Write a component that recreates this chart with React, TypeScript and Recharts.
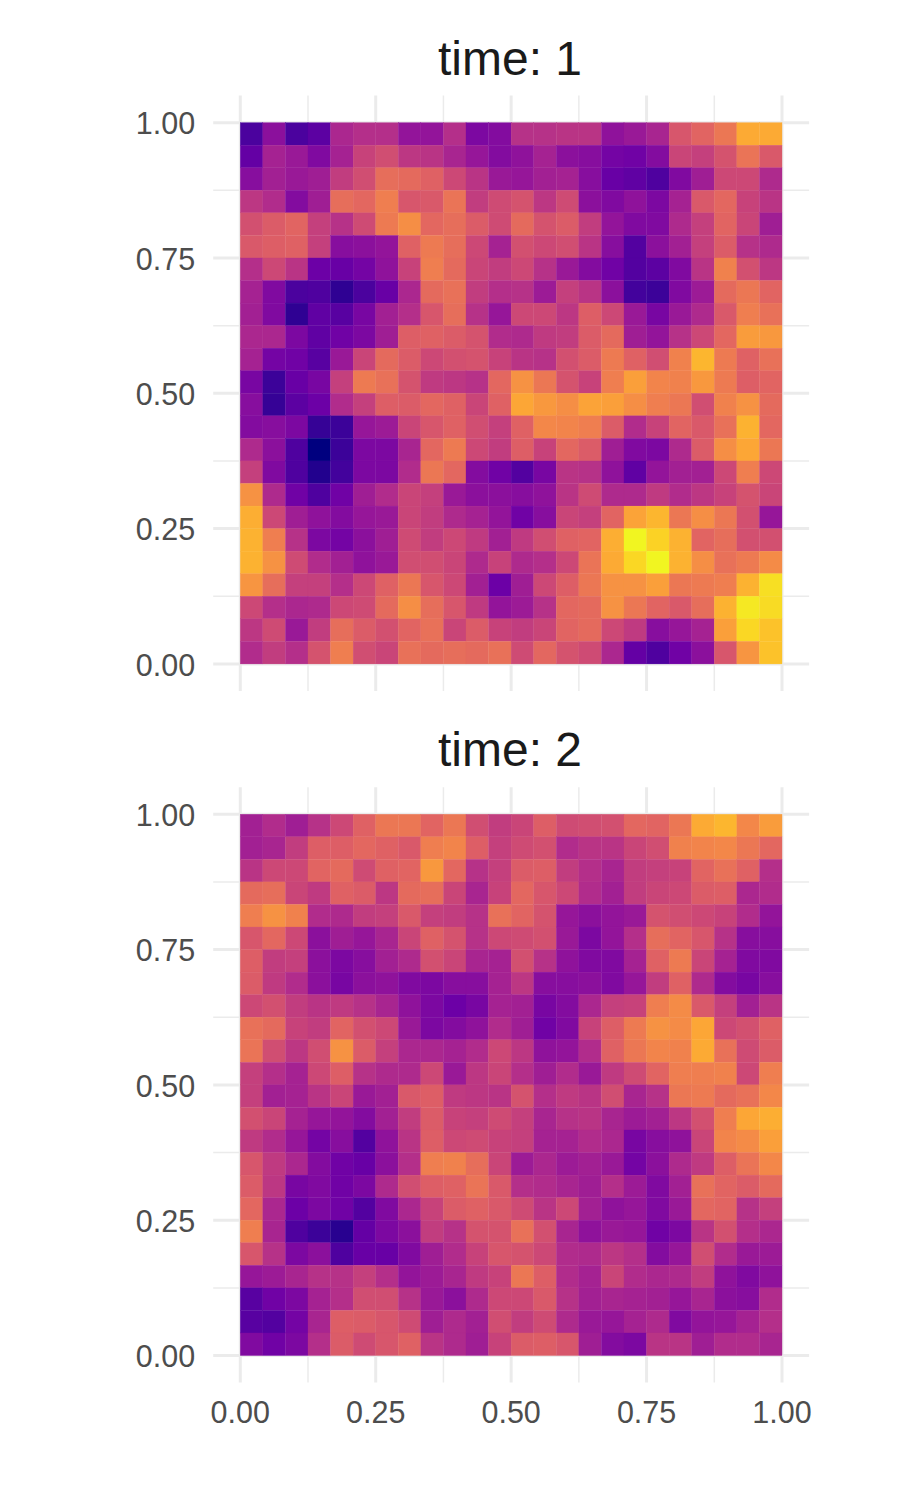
// Two stacked heatmap panels (time: 1, time: 2) on a plasma scale.
import { ScatterChart, Scatter, XAxis, YAxis, CartesianGrid } from "recharts";

const axisTicks = [0, 0.25, 0.5, 0.75, 1];
const minorTicks = [0.125, 0.375, 0.625, 0.875];

// plasma stops, low to high (values below are read on a 0-100 scale)
const plasmaStops = [
  "#00007f", "#43029c", "#6c00a6", "#93149a", "#b12c8c", "#cc4876",
  "#e16462", "#f2844b", "#fca636", "#fcce25", "#f0f921",
];

// rows run top to bottom, columns left to right
const time1Values = [
  [12, 28, 12, 16, 38, 41, 41, 30, 30, 41, 24, 26, 42, 42, 43, 43, 29, 32, 37, 55, 60, 66, 81, 81],
  [18, 36, 32, 25, 36, 48, 52, 44, 43, 37, 31, 26, 29, 36, 28, 27, 22, 21, 26, 49, 47, 54, 65, 56],
  [27, 35, 32, 34, 46, 52, 63, 62, 59, 50, 43, 32, 31, 35, 36, 27, 19, 17, 13, 25, 34, 50, 50, 39],
  [44, 40, 26, 34, 63, 61, 68, 55, 56, 65, 46, 51, 54, 44, 51, 28, 25, 29, 24, 36, 56, 61, 48, 43],
  [53, 57, 60, 47, 42, 51, 67, 73, 61, 63, 57, 51, 62, 54, 57, 46, 30, 25, 25, 39, 47, 60, 49, 34],
  [56, 58, 59, 47, 27, 28, 30, 59, 67, 63, 50, 36, 53, 50, 52, 43, 27, 14, 28, 35, 47, 57, 42, 39],
  [41, 50, 43, 20, 19, 22, 29, 48, 68, 62, 49, 46, 50, 42, 32, 26, 21, 14, 16, 25, 43, 69, 53, 44],
  [36, 25, 12, 13, 7, 12, 19, 38, 62, 64, 46, 41, 42, 33, 47, 43, 28, 10, 9, 25, 33, 62, 66, 60],
  [35, 25, 7, 17, 15, 23, 35, 41, 55, 63, 42, 31, 50, 50, 44, 58, 50, 32, 23, 32, 39, 56, 68, 64],
  [38, 38, 24, 17, 21, 24, 34, 58, 59, 57, 54, 40, 39, 45, 46, 57, 62, 34, 30, 42, 50, 61, 77, 76],
  [36, 22, 21, 15, 32, 49, 62, 57, 50, 53, 54, 48, 43, 42, 53, 57, 67, 59, 52, 69, 84, 67, 59, 64],
  [23, 9, 19, 23, 47, 67, 64, 54, 45, 44, 42, 61, 74, 66, 54, 48, 68, 78, 70, 69, 76, 67, 58, 60],
  [27, 8, 16, 20, 40, 47, 58, 57, 61, 59, 49, 59, 80, 76, 73, 79, 78, 73, 68, 66, 52, 69, 74, 62],
  [26, 27, 24, 8, 9, 31, 33, 49, 55, 59, 52, 47, 59, 71, 70, 68, 57, 40, 48, 60, 56, 64, 83, 61],
  [39, 28, 13, 0, 9, 24, 24, 37, 61, 67, 50, 46, 58, 48, 61, 57, 34, 25, 24, 39, 57, 73, 80, 66],
  [47, 25, 13, 5, 10, 24, 24, 40, 66, 61, 26, 21, 14, 23, 43, 42, 29, 17, 30, 35, 35, 50, 68, 50],
  [74, 39, 21, 13, 21, 34, 40, 49, 47, 32, 28, 28, 27, 29, 43, 51, 39, 39, 45, 40, 44, 48, 54, 49],
  [82, 50, 34, 29, 26, 31, 32, 49, 46, 39, 36, 30, 21, 27, 49, 47, 60, 79, 84, 66, 73, 66, 53, 31],
  [83, 68, 42, 24, 22, 28, 34, 51, 46, 50, 45, 35, 45, 52, 59, 60, 82, 99, 91, 83, 60, 63, 53, 53],
  [83, 74, 51, 40, 35, 29, 32, 52, 52, 49, 39, 48, 39, 41, 50, 65, 81, 92, 99, 83, 73, 64, 67, 72],
  [75, 63, 47, 47, 41, 50, 59, 66, 55, 50, 35, 20, 34, 50, 58, 66, 74, 74, 78, 66, 67, 68, 83, 94],
  [50, 41, 38, 39, 50, 51, 62, 73, 63, 55, 45, 30, 33, 42, 61, 62, 74, 66, 60, 56, 63, 83, 96, 93],
  [44, 51, 32, 46, 63, 57, 53, 60, 64, 49, 57, 48, 46, 49, 60, 62, 50, 45, 27, 31, 36, 78, 92, 87],
  [40, 46, 41, 54, 68, 52, 49, 64, 62, 63, 62, 64, 51, 61, 54, 51, 38, 18, 13, 21, 28, 55, 75, 87],
];

const time2Values = [
  [35, 40, 34, 42, 50, 59, 66, 66, 60, 66, 52, 46, 49, 58, 51, 52, 53, 61, 60, 66, 81, 84, 71, 77],
  [35, 37, 46, 58, 58, 61, 59, 56, 68, 70, 58, 47, 51, 53, 40, 43, 43, 49, 52, 69, 70, 71, 66, 61],
  [43, 50, 50, 60, 62, 51, 59, 60, 76, 61, 42, 47, 57, 58, 46, 41, 37, 46, 47, 48, 60, 64, 59, 41],
  [62, 63, 49, 45, 59, 57, 44, 62, 63, 49, 37, 48, 61, 55, 50, 40, 35, 46, 49, 50, 57, 58, 38, 40],
  [68, 74, 69, 40, 39, 46, 47, 56, 47, 46, 42, 64, 60, 54, 31, 28, 30, 32, 54, 52, 50, 48, 40, 30],
  [55, 61, 50, 28, 34, 31, 37, 49, 59, 54, 42, 50, 51, 53, 32, 24, 30, 41, 63, 60, 55, 42, 27, 27],
  [58, 46, 47, 28, 24, 27, 35, 39, 53, 49, 37, 36, 53, 42, 29, 25, 25, 36, 59, 67, 49, 36, 25, 25],
  [57, 45, 40, 28, 23, 28, 29, 25, 24, 27, 27, 36, 44, 27, 27, 28, 25, 31, 46, 59, 39, 26, 23, 27],
  [50, 53, 46, 43, 45, 42, 37, 29, 24, 20, 23, 36, 35, 23, 26, 38, 47, 48, 68, 72, 56, 47, 35, 43],
  [64, 62, 48, 46, 60, 53, 50, 32, 24, 26, 29, 40, 34, 21, 25, 48, 58, 67, 74, 72, 80, 50, 53, 59],
  [65, 52, 44, 52, 74, 57, 47, 38, 38, 36, 40, 50, 44, 29, 30, 40, 59, 66, 70, 69, 81, 64, 51, 57],
  [47, 41, 36, 50, 58, 42, 39, 39, 50, 32, 44, 49, 41, 34, 40, 32, 45, 51, 60, 68, 68, 69, 50, 68],
  [47, 35, 36, 43, 49, 32, 35, 56, 58, 45, 44, 43, 54, 41, 45, 43, 52, 37, 42, 66, 67, 62, 64, 71],
  [53, 49, 36, 31, 30, 26, 35, 46, 57, 48, 47, 51, 47, 37, 42, 43, 37, 33, 35, 44, 53, 68, 80, 82],
  [45, 40, 31, 22, 27, 14, 29, 43, 58, 50, 51, 48, 47, 36, 36, 40, 38, 23, 27, 29, 49, 70, 72, 78],
  [55, 45, 38, 26, 21, 19, 28, 41, 68, 69, 63, 49, 33, 38, 33, 35, 32, 22, 28, 39, 45, 58, 65, 71],
  [57, 44, 23, 25, 21, 24, 39, 52, 58, 59, 65, 56, 41, 40, 37, 34, 41, 33, 25, 35, 64, 60, 57, 62],
  [61, 38, 20, 24, 21, 14, 25, 38, 48, 57, 59, 56, 51, 43, 50, 35, 29, 31, 25, 32, 61, 60, 42, 47],
  [68, 37, 13, 9, 6, 18, 24, 28, 46, 42, 54, 54, 64, 53, 37, 29, 32, 31, 21, 24, 43, 53, 41, 38],
  [55, 42, 24, 28, 13, 19, 19, 25, 34, 40, 48, 55, 54, 50, 40, 39, 44, 41, 26, 31, 52, 40, 32, 33],
  [31, 33, 37, 42, 42, 47, 41, 30, 33, 37, 45, 48, 66, 58, 40, 36, 49, 40, 38, 39, 46, 29, 25, 29],
  [15, 21, 24, 36, 41, 52, 52, 42, 32, 28, 39, 50, 50, 56, 42, 35, 37, 36, 35, 31, 37, 28, 27, 40],
  [15, 14, 22, 37, 58, 57, 55, 51, 34, 39, 35, 52, 46, 51, 39, 32, 31, 36, 39, 25, 30, 31, 36, 41],
  [25, 21, 24, 41, 57, 51, 55, 59, 43, 39, 34, 48, 57, 58, 55, 34, 26, 24, 43, 43, 34, 40, 40, 37],
];

const CHART_W = 897;
const PLOT_LEFT = 213.2;
const PLOT_W = 595.9;
const PLOT_H = 595.4;
const Y_AXIS_W = 60;
// data range is 1 of the 1.1 the axes span, split over 24 tiles
const TILE_W = PLOT_W / 1.1 / 24;
const TILE_H = PLOT_H / 1.1 / 24;
const DOMAIN: [number, number] = [-0.05, 1.05];
const FONT = '"Liberation Sans", Arial, sans-serif';

function plasma(v: number) {
  const t = (Math.min(Math.max(v, 0), 100) / 100) * (plasmaStops.length - 1);
  const i = Math.min(Math.floor(t), plasmaStops.length - 2);
  const hex = (s: string, k: number) => parseInt(s.slice(1 + k * 2, 3 + k * 2), 16);
  const ch = [0, 1, 2].map((k) =>
    Math.round(hex(plasmaStops[i], k) + (hex(plasmaStops[i + 1], k) - hex(plasmaStops[i], k)) * (t - i)),
  );
  return `rgb(${ch[0]},${ch[1]},${ch[2]})`;
}

function toCells(rows: number[][]) {
  return rows.flatMap((row, r) =>
    row.map((v, c) => ({ x: (c + 0.5) / row.length, y: 1 - (r + 0.5) / rows.length, v })),
  );
}

function Tile(props: any) {
  const { cx, cy, payload } = props;
  const fill = plasma(payload.v);
  // thin same-colour stroke so only a faint seam stays between tiles
  return (
    <rect
      x={cx - TILE_W / 2}
      y={cy - TILE_H / 2}
      width={TILE_W}
      height={TILE_H}
      fill={fill}
      stroke={fill}
      strokeWidth={0.3}
    />
  );
}

const fmtTick = (t: number) => t.toFixed(2);

function Panel({
  title,
  rows,
  top,
  height,
  plotTop,
  showX,
}: {
  title: string;
  rows: number[][];
  top: number;
  height: number;
  plotTop: number;
  showX: boolean;
}) {
  const bottom = height - plotTop - PLOT_H - (showX ? 60 : 0);
  return (
    <div style={{ position: "absolute", left: 0, top }}>
      <ScatterChart
        width={CHART_W}
        height={height}
        margin={{ top: plotTop, bottom, left: PLOT_LEFT - Y_AXIS_W, right: CHART_W - PLOT_LEFT - PLOT_W }}
      >
        <CartesianGrid stroke="#ebebeb" strokeWidth={1.5} horizontalValues={minorTicks} verticalValues={minorTicks} />
        <CartesianGrid stroke="#ebebeb" strokeWidth={3} horizontalValues={axisTicks} verticalValues={axisTicks} />
        <XAxis
          type="number"
          dataKey="x"
          domain={DOMAIN}
          ticks={axisTicks}
          tickFormatter={fmtTick}
          hide={!showX}
          height={60}
          axisLine={false}
          tickLine={false}
          tickSize={0}
          tickMargin={19}
          interval={0}
          tick={{ fontSize: 30.5, fill: "#4d4d4d", fontFamily: FONT }}
        />
        <YAxis
          type="number"
          dataKey="y"
          domain={DOMAIN}
          ticks={axisTicks}
          tickFormatter={fmtTick}
          width={Y_AXIS_W}
          axisLine={false}
          tickLine={false}
          tickSize={0}
          tickMargin={18}
          interval={0}
          tick={{ fontSize: 30.5, fill: "#4d4d4d", fontFamily: FONT, dy: 1 }}
        />
        <Scatter data={toCells(rows)} shape={Tile} isAnimationActive={false} />
        <text x={510} y={plotTop - 21} textAnchor="middle" fontSize={48} fill="#1a1a1a" fontFamily={FONT}>
          {title}
        </text>
      </ScatterChart>
    </div>
  );
}

export default function App() {
  return (
    <div style={{ position: "absolute", left: 0, top: 0, width: CHART_W, height: 1495, background: "#fff" }}>
      <Panel title="time: 1" rows={time1Values} top={0} height={700} plotTop={95.6} showX={false} />
      <Panel title="time: 2" rows={time2Values} top={700} height={795} plotTop={87.2} showX />
    </div>
  );
}
